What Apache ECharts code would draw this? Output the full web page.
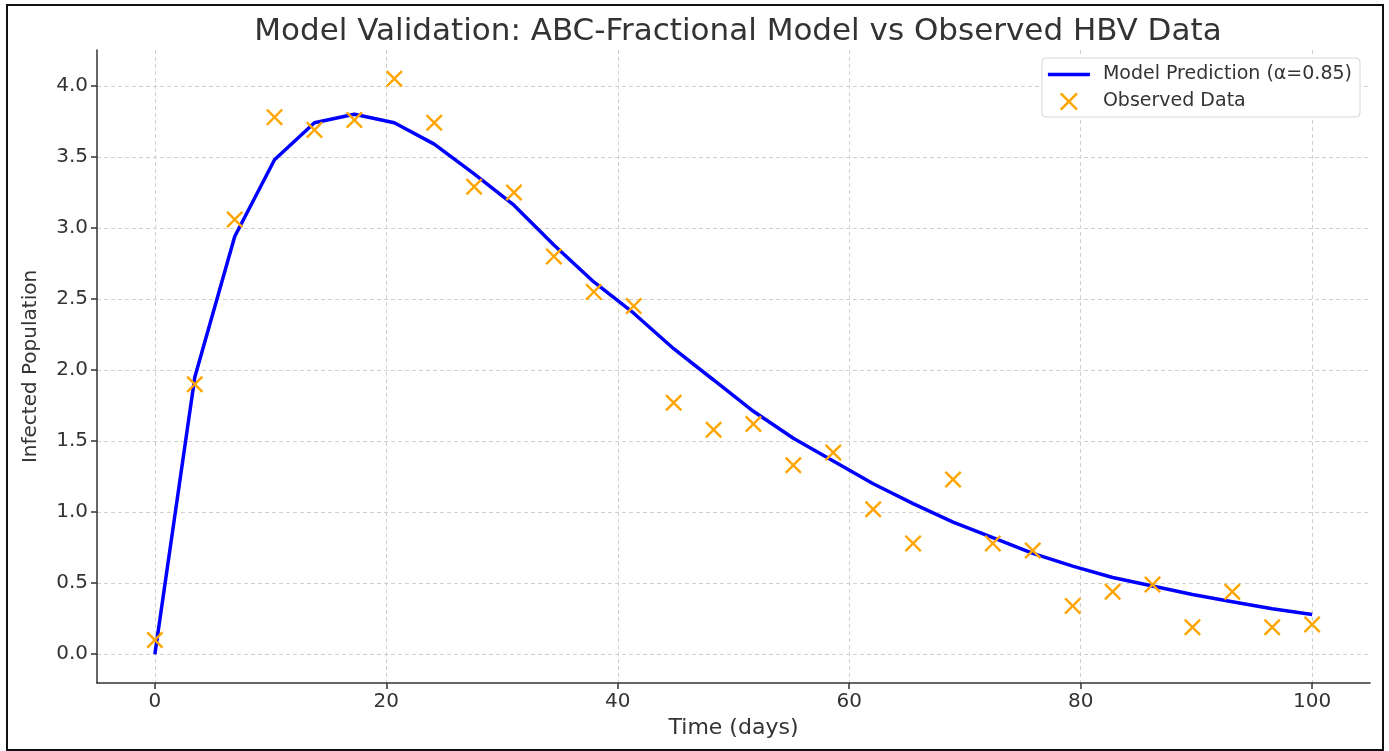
<!DOCTYPE html>
<html>
<head>
<meta charset="utf-8">
<script src="https://cdn.jsdelivr.net/npm/echarts@6/dist/echarts.min.js"></script>
<style>
	html, body { margin: 0; padding: 0; background: #fff; }
	#chart { position: absolute; left: 0; top: 0; width: 1389px; height: 751px; }
	#frame { position: absolute; left: 6px; top: 4px; width: 1374px; height: 743px; border: 2px solid #111; pointer-events: none; }
</style>
</head>
<body>
<div id="chart"></div>
<div id="frame"></div>
<script>
	// time points (days) - 30 samples from 0 to 100
	const days = [0, 3.45, 6.9, 10.34, 13.79, 17.24, 20.69, 24.14, 27.59, 31.03,
		34.48, 37.93, 41.38, 44.83, 48.28, 51.72, 55.17, 58.62, 62.07, 65.52,
		68.97, 72.41, 75.86, 79.31, 82.76, 86.21, 89.66, 93.1, 96.55, 100];
	// model prediction
	const modelValues = [0.0, 1.95, 2.94, 3.48, 3.74, 3.8, 3.74, 3.59, 3.38, 3.16,
		2.88, 2.62, 2.4, 2.15, 1.93, 1.71, 1.52, 1.36, 1.2, 1.06,
		0.93, 0.82, 0.71, 0.62, 0.54, 0.48, 0.42, 0.37, 0.32, 0.28];
	// observed data
	const observedValues = [0.1, 1.9, 3.06, 3.78, 3.69, 3.76, 4.05, 3.74, 3.29, 3.25,
		2.8, 2.55, 2.45, 1.77, 1.58, 1.62, 1.33, 1.42, 1.02, 0.78,
		1.23, 0.78, 0.73, 0.34, 0.44, 0.49, 0.19, 0.44, 0.19, 0.21];
	const xTicks = [0, 20, 40, 60, 80, 100];
	const yTicks = [0, 0.5, 1.0, 1.5, 2.0, 2.5, 3.0, 3.5, 4.0];

	const crossMark = 'path://M1,0 L5,4 L9,0 L10,1 L6,5 L10,9 L9,10 L5,6 L1,10 L0,9 L4,5 L0,1 Z';
	const lineMark = 'path://M0,0 L40,0 L40,3.5 L0,3.5 Z';
	const font = 'DejaVu Sans';
	const gridLine = { show: true, lineStyle: { color: '#d0d0d0', width: 1, type: [4, 3] } };

	const myChart = echarts.init(document.getElementById('chart'));
	const option = {
		backgroundColor: '#fff',
		animation: false,
		title: {
			text: 'Model Validation: ABC-Fractional Model vs Observed HBV Data',
			left: 733,
			textAlign: 'center',
			top: 11,
			textStyle: { fontFamily: font, fontSize: 31, fontWeight: 'normal', color: '#333' }
		},
		legend: {
			orient: 'vertical',
			right: 29,
			top: 58,
			padding: [7, 8, 6, 6],
			itemGap: 8,
			itemWidth: 42,
			itemHeight: 18,
			backgroundColor: '#fff',
			borderColor: '#d6d6d6',
			borderWidth: 1,
			borderRadius: 4,
			textStyle: { fontFamily: font, fontSize: 19, color: '#333', padding: [0, 0, 0, 8] },
			data: [
				{ name: 'Model Prediction (α=0.85)', icon: lineMark },
				{ name: 'Observed Data', icon: crossMark, itemStyle: { color: '#ffa500' } }
			]
		},
		grid: { left: 97, right: 19, top: 50, bottom: 68 },
		xAxis: {
			type: 'value',
			min: -5,
			max: 105,
			name: 'Time (days)',
			nameLocation: 'middle',
			nameGap: 31,
			nameTextStyle: { fontFamily: font, fontSize: 22, color: '#333' },
			axisLine: { onZero: false, lineStyle: { color: '#333', width: 1.5 } },
			axisTick: { show: true, length: 6, customValues: xTicks, lineStyle: { color: '#333', width: 1.5 } },
			axisLabel: { customValues: xTicks, fontFamily: font, fontSize: 20, color: '#333', margin: 9 },
			splitLine: gridLine
		},
		yAxis: {
			type: 'value',
			min: -0.2025,
			max: 4.2525,
			name: 'Infected Population',
			nameLocation: 'middle',
			nameGap: 56,
			nameTextStyle: { fontFamily: font, fontSize: 20, color: '#333' },
			axisLine: { show: true, onZero: false, lineStyle: { color: '#333', width: 1.5 } },
			axisTick: { show: true, length: 6, customValues: yTicks, lineStyle: { color: '#333', width: 1.5 } },
			axisLabel: {
				customValues: yTicks,
				fontFamily: font,
				fontSize: 20,
				color: '#333',
				margin: 9,
				formatter: (v) => v.toFixed(1)
			},
			splitLine: gridLine
		},
		series: [
			{
				name: 'Model Prediction (α=0.85)',
				type: 'line',
				data: days.map((d, i) => [d, modelValues[i]]),
				showSymbol: false,
				symbol: 'none',
				color: '#0000ff',
				lineStyle: { color: '#0000ff', width: 3.5 },
				z: 3
			},
			{
				name: 'Observed Data',
				type: 'scatter',
				data: days.map((d, i) => [d, observedValues[i]]),
				symbol: crossMark,
				symbolSize: 17,
				itemStyle: { color: '#ffa500', opacity: 1 },
				z: 4
			}
		]
	};
	myChart.setOption(option);
</script>
</body>
</html>
